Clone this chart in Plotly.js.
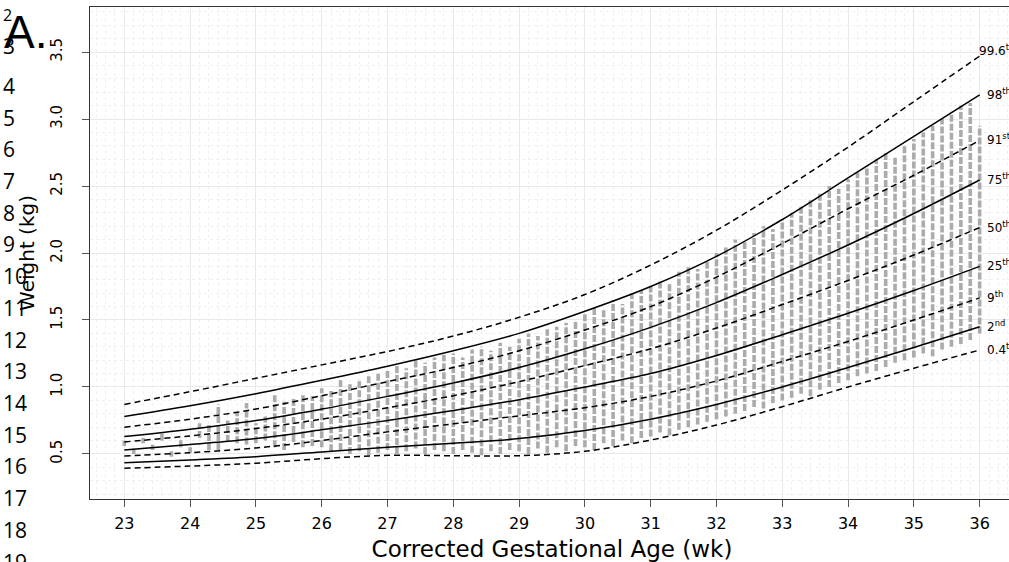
<!DOCTYPE html>
<html>
<head>
<meta charset="utf-8">
<script src="https://cdn.plot.ly/plotly-3.0.1.min.js"></script>
<style>
html,body{margin:0;padding:0;overflow:hidden;background:#fff;width:1009px;height:562px;}
#chart{width:1030px;height:562px;}
</style>
</head>
<body>
<div id="chart"></div>
<script>
// ---- percentile curves (kg) at each completed week ----
const weeks = [23,24,25,26,27,28,29,30,31,32,33,34,35,36];
const p0_4  = [0.393,0.41,0.431,0.465,0.49,0.487,0.487,0.52,0.604,0.716,0.853,1.0,1.14,1.276];
const p2    = [0.435,0.456,0.48,0.515,0.55,0.58,0.615,0.675,0.76,0.87,1.0,1.145,1.295,1.45];
const p9    = [0.485,0.51,0.545,0.60,0.665,0.725,0.785,0.845,0.93,1.045,1.19,1.34,1.50,1.665];
const p25   = [0.53,0.57,0.615,0.68,0.75,0.825,0.905,1.0,1.10,1.235,1.39,1.55,1.72,1.90];
const p50   = [0.59,0.635,0.69,0.76,0.845,0.935,1.04,1.16,1.285,1.44,1.615,1.795,1.985,2.19];
const p75   = [0.63,0.685,0.75,0.835,0.93,1.03,1.145,1.285,1.445,1.63,1.84,2.06,2.295,2.545];
const p91   = [0.70,0.76,0.835,0.935,1.04,1.145,1.27,1.425,1.60,1.82,2.07,2.33,2.58,2.84];
const p98   = [0.78,0.86,0.95,1.05,1.155,1.27,1.40,1.565,1.75,1.975,2.25,2.56,2.87,3.18];
const p99_6 = [0.87,0.965,1.065,1.165,1.265,1.38,1.52,1.69,1.91,2.17,2.47,2.79,3.13,3.47];
const curveNames = ["0.4<sup>th</sup>","2<sup>nd</sup>","9<sup>th</sup>","25<sup>th</sup>","50<sup>th</sup>","75<sup>th</sup>","91<sup>st</sup>","98<sup>th</sup>","99.6<sup>th</sup>"];

// ---- observed weights: range of values recorded on each day (23+0/7 ... 36+0/7 wk) ----
const obsLow = [
 0.56,0.50,0.58,0.53,0.60,0.48,0.55,
 0.51,0.62,0.53,0.53,0.59,0.58,0.57,
 0.58,0.60,0.55,0.53,0.59,0.55,0.56,
 0.55,0.52,0.53,0.50,0.52,0.49,0.51,
 0.53,0.50,0.52,0.54,0.50,0.53,0.52,
 0.50,0.53,0.51,0.49,0.52,0.50,0.53,
 0.52,0.50,0.54,0.51,0.55,0.52,0.56,
 0.55,0.53,0.58,0.56,0.60,0.58,0.62,
 0.63,0.66,0.64,0.68,0.70,0.72,0.74,
 0.76,0.78,0.80,0.82,0.85,0.84,0.88,
 0.90,0.92,0.95,0.93,0.98,1.00,1.03,
 1.05,1.08,1.10,1.12,1.15,1.18,1.20,
 1.22,1.25,1.23,1.28,1.30,1.32,1.35,
 1.40];
const obsHigh = [
 0.60,0.54,0.62,0.57,0.66,0.52,0.62,
 0.55,0.73,0.72,0.87,0.75,0.81,0.88,
 0.73,0.78,0.95,0.89,0.92,0.95,0.93,
 0.99,0.97,1.05,1.02,1.06,1.08,1.10,
 1.12,1.16,1.14,1.20,1.18,1.22,1.24,
 1.25,1.22,1.28,1.30,1.27,1.33,1.30,
 1.36,1.40,1.38,1.43,1.45,1.48,1.50,
 1.55,1.60,1.58,1.65,1.62,1.70,1.72,
 1.75,1.80,1.78,1.86,1.90,1.88,1.95,
 2.00,2.05,2.10,2.08,2.15,2.20,2.18,
 2.25,2.30,2.35,2.40,2.45,2.50,2.48,
 2.55,2.60,2.65,2.70,2.75,2.72,2.80,
 2.85,2.90,2.95,3.00,3.05,3.10,3.12,
 2.95];
const dayAge = obsLow.map((_, i) => 23 + i / 7);

const xTicks = [23,24,25,26,27,28,29,30,31,32,33,34,35,36];
const yTicks = [0.5,1.0,1.5,2.0,2.5,3.0,3.5];
const yTickText = ["0.5","1.0","1.5","2.0","2.5","3.0","3.5"];
const lineNumbers = ["2","3","4","5","6","7","8","9","10","11","12","13","14","15","16","17","18","19"];

// ---- build traces ----
const colX = [], colY = [];
dayAge.forEach((a, i) => { colX.push(a, a, null); colY.push(obsLow[i], obsHigh[i], null); });

const traces = [{
  x: colX, y: colY, type: 'scatter', mode: 'lines', hoverinfo: 'skip',
  line: {color: '#ababab', width: 3.6, dash: '7px,2px'}, showlegend: false
}];
const series = [p0_4,p2,p9,p25,p50,p75,p91,p98,p99_6];
series.forEach((s, k) => {
  traces.push({
    x: weeks, y: s, type: 'scatter', mode: 'lines', name: curveNames[k], showlegend: false,
    line: {color: '#000', width: 1.5, shape: 'spline', smoothing: 1.0, dash: (k % 2 === 0) ? '6px,4px' : 'solid'}
  });
});

// ---- annotations ----
const W = 1030, H = 562, ML = 90, MR = 16, MT = 7, MB = 63;
const pw = W - ML - MR, ph = H - MT - MB;
const px2x = px => (px - ML) / pw;
const py2y = py => (H - MB - py) / ph;
const ann = [];
series.forEach((s, k) => {
  ann.push({xref: 'x', yref: 'y', x: 36, y: s[s.length - 1], text: curveNames[k], showarrow: false,
    xanchor: 'left', yanchor: 'middle', xshift: k === 8 ? -3 : 5, yshift: k === 8 ? 6 : 1,
    font: {family: 'DejaVu Sans', size: 12, color: '#000'}});
});
const lnY = [15,46,86,117.7,149.4,181,212.8,244.5,276,308,339.6,371,403,434.7,466,498,530,561.6];
lineNumbers.forEach((t, i) => {
  ann.push({xref: 'paper', yref: 'paper', x: px2x(1), y: py2y(lnY[i]), text: t, showarrow: false,
    xanchor: 'left', yanchor: 'middle', font: {family: 'Open Sans', size: i === 0 ? 16 : 21, color: '#000'}});
});
ann.push({xref: 'paper', yref: 'paper', x: px2x(2), y: py2y(32), text: 'A.', showarrow: false,
  xanchor: 'left', yanchor: 'middle', font: {family: 'Liberation Sans', size: 46, color: '#000'}});

const layout = {
  width: W, height: H,
  margin: {l: ML, r: MR, t: MT, b: MB, pad: 0},
  paper_bgcolor: '#fff', plot_bgcolor: '#fff',
  showlegend: false,
  xaxis: {
    range: [22.478, 36.522], tickmode: 'array', tickvals: xTicks, ticktext: xTicks.map(String),
    ticks: 'outside', ticklen: 7, tickcolor: '#555', tickwidth: 1, ticklabelstandoff: 3,
    showline: true, mirror: true, linecolor: '#333', linewidth: 1,
    showgrid: true, gridcolor: '#e9e9e9', gridwidth: 1, zeroline: false,
    minor: {tick0: 23, dtick: 1/7, showgrid: true, gridcolor: '#f0f0f0', griddash: 'dot', gridwidth: 1, ticks: ''},
    tickfont: {family: 'DejaVu Sans', size: 16, color: '#000'},
    title: {text: 'Corrected Gestational Age (wk)', font: {family: 'DejaVu Sans', size: 23, color: '#000'}, standoff: 12}
  },
  yaxis: {
    range: [0.164, 3.836], tickmode: 'array', tickvals: yTicks, ticktext: yTickText, tickangle: -90,
    ticks: 'outside', ticklen: 7, tickcolor: '#555', tickwidth: 1, ticklabelstandoff: 14,
    showline: true, mirror: true, linecolor: '#333', linewidth: 1,
    showgrid: true, gridcolor: '#e9e9e9', gridwidth: 1, zeroline: false,
    minor: {tick0: 0, dtick: 0.1, showgrid: true, gridcolor: '#f0f0f0', griddash: 'dot', gridwidth: 1, ticks: ''},
    tickfont: {family: 'DejaVu Sans', size: 15, color: '#000'},
    title: {text: 'Weight (kg)', font: {family: 'DejaVu Sans', size: 20, color: '#000'}, standoff: 8}
  },
  annotations: ann
};
Plotly.newPlot('chart', traces, layout, {staticPlot: true, displayModeBar: false});
</script>
</body>
</html>
